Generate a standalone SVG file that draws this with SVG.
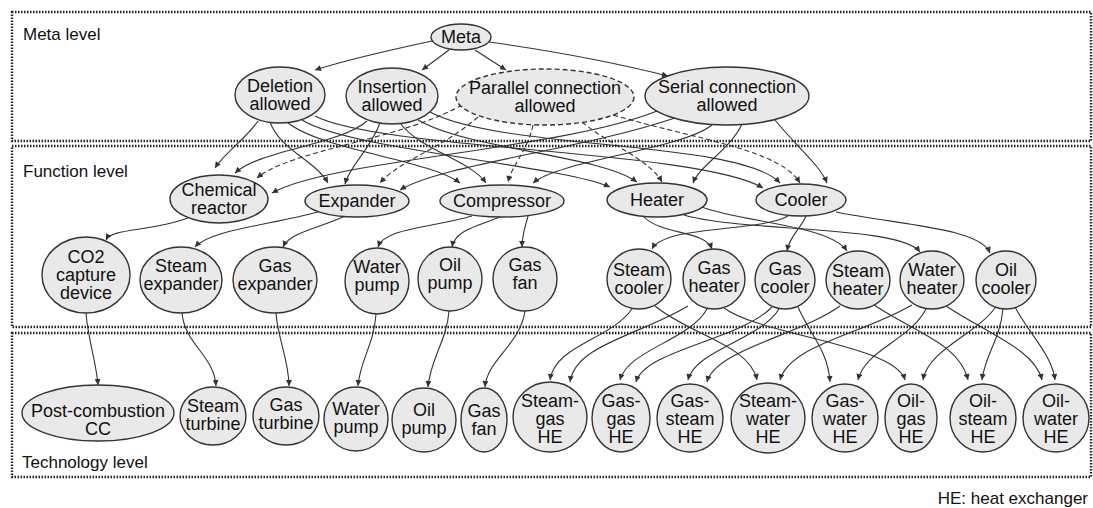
<svg xmlns="http://www.w3.org/2000/svg" width="1093" height="508" viewBox="0 0 1093 508">
<style>
.box{fill:none;stroke:#222;stroke-width:2.4;stroke-dasharray:1.5 1.5}
.lbl{font-family:"Liberation Sans",Arial,sans-serif;font-size:17px;fill:#111}
.n ellipse{fill:#e9e9e9;stroke:#333;stroke-width:1.4}
.n text{font-family:"Liberation Sans",Arial,sans-serif;font-size:18px;fill:#111;text-anchor:middle}
.dash ellipse{stroke-dasharray:5 3}
#edges path{fill:none;stroke:#333;stroke-width:1.1;marker-end:url(#ah)}
#edges path.d{stroke-dasharray:5 3}
</style>
<defs>
<marker id="ah" viewBox="0 0 10 10" refX="10" refY="5" markerWidth="8" markerHeight="6" orient="auto" markerUnits="userSpaceOnUse"><path d="M0,0 L10,5 L0,10 z" fill="#333"/></marker>
</defs>
<rect width="1093" height="508" fill="#fff"/>
<g id="levels">
<rect class="box" x="12" y="12" width="1079" height="129"/>
<rect class="box" x="12" y="146" width="1079" height="181"/>
<rect class="box" x="12" y="333" width="1079" height="144"/>
<text class="lbl" x="23" y="40">Meta level</text>
<text class="lbl" x="23" y="177">Function level</text>
<text class="lbl" x="22" y="468">Technology level</text>
<text class="lbl" x="1088" y="504" text-anchor="end">HE: heat exchanger</text>
</g>
<g id="edges">
<path d="M432,41 C390,50 340,62 315,70"/>
<path d="M449,50 L422,70"/>
<path d="M475,50 L506,70"/>
<path d="M489,42 C560,52 620,64 668,76"/>
<path d="M258,121 C245,140 225,152 215,168"/>
<path d="M270,122 C280,150 315,160 328,183"/>
<path d="M287,122 C320,150 430,160 460,183"/>
<path d="M302,120 C350,150 560,165 610,187"/>
<path d="M315,116 C380,150 700,150 763,188"/>
<path d="M367,121 C340,145 260,150 235,173"/>
<path d="M380,123 C370,150 350,165 345,184"/>
<path d="M400,123 C420,150 470,160 486,183"/>
<path d="M418,120 C470,150 600,155 637,182"/>
<path d="M430,112 C500,150 740,140 780,183"/>
<path class="d" d="M462,105 C400,140 290,150 257,178"/>
<path class="d" d="M478,117 C440,150 400,160 380,183"/>
<path class="d" d="M533,125 C528,150 512,165 508,182"/>
<path class="d" d="M582,122 C610,145 650,160 662,182"/>
<path class="d" d="M613,115 C700,140 780,150 800,183"/>
<path d="M657,111 C560,150 330,160 272,193"/>
<path d="M675,118 C580,150 440,165 400,190"/>
<path d="M712,125 C680,150 560,160 533,183"/>
<path d="M742,124 C730,150 700,165 693,183"/>
<path d="M775,120 C795,145 820,165 827,183"/>
<path d="M188,218 C150,232 112,228 106,240"/>
<path d="M318,212 C270,225 210,230 195,247"/>
<path d="M345,216 C320,228 290,232 283,247"/>
<path d="M472,216 C430,228 385,228 378,247"/>
<path d="M500,217 C470,228 455,232 452,247"/>
<path d="M528,216 C525,228 522,235 522,247"/>
<path d="M643,216 C660,235 705,230 712,249"/>
<path d="M702,207 C740,222 830,225 847,251"/>
<path d="M684,215 C740,232 900,225 920,252"/>
<path d="M788,216 C760,232 665,225 652,249"/>
<path d="M806,216 C800,230 790,235 787,251"/>
<path d="M836,212 C900,225 980,228 990,253"/>
<path d="M86,313 C88,340 96,360 98,385"/>
<path d="M182,313 C185,345 214,355 216,386"/>
<path d="M276,313 C278,340 289,360 289,386"/>
<path d="M376,314 C374,345 360,360 358,386"/>
<path d="M449,311 C447,340 430,360 428,387"/>
<path d="M525,311 C520,345 487,360 485,387"/>
<path d="M632,309 C610,340 555,345 550,380"/>
<path d="M688,306 C640,335 575,345 570,382"/>
<path d="M707,309 C690,340 628,350 620,380"/>
<path d="M772,307 C740,340 645,350 636,382"/>
<path d="M779,309 C760,340 695,350 688,380"/>
<path d="M840,306 C800,335 715,350 707,382"/>
<path d="M655,306 C690,335 750,345 757,380"/>
<path d="M912,305 C860,335 790,345 780,380"/>
<path d="M798,307 C810,335 828,350 830,382"/>
<path d="M926,309 C910,340 865,350 858,380"/>
<path d="M724,308 C760,335 895,345 905,380"/>
<path d="M995,308 C975,335 928,350 923,380"/>
<path d="M874,305 C920,335 960,345 968,380"/>
<path d="M1003,309 C1000,340 985,355 982,380"/>
<path d="M946,306 C990,335 1035,350 1042,380"/>
<path d="M1015,307 C1030,335 1052,355 1055,380"/>
</g>
<g id="meta" class="n"><ellipse cx="461" cy="37" rx="30" ry="13"/><text x="461" y="43">Meta</text></g>
<g id="deletion" class="n"><ellipse cx="280" cy="95" rx="45" ry="28"/><text x="280" y="92">Deletion<tspan x="280" dy="18">allowed</tspan></text></g>
<g id="insertion" class="n"><ellipse cx="392" cy="96" rx="46" ry="28"/><text x="392" y="93">Insertion<tspan x="392" dy="18">allowed</tspan></text></g>
<g id="parallel" class="n dash"><ellipse cx="545" cy="97" rx="89" ry="28"/><text x="545" y="94">Parallel connection<tspan x="545" dy="18">allowed</tspan></text></g>
<g id="serial" class="n"><ellipse cx="727" cy="96" rx="82" ry="29"/><text x="727" y="93">Serial connection<tspan x="727" dy="18">allowed</tspan></text></g>
<g id="chemical-reactor" class="n"><ellipse cx="219" cy="199" rx="49" ry="24"/><text x="219" y="196">Chemical<tspan x="219" dy="18">reactor</tspan></text></g>
<g id="expander" class="n"><ellipse cx="357" cy="201" rx="52" ry="16"/><text x="357" y="207">Expander</text></g>
<g id="compressor" class="n"><ellipse cx="502" cy="201" rx="62" ry="16"/><text x="502" y="207">Compressor</text></g>
<g id="heater" class="n"><ellipse cx="657" cy="200" rx="50" ry="17"/><text x="657" y="206">Heater</text></g>
<g id="cooler" class="n"><ellipse cx="801" cy="200" rx="45" ry="16"/><text x="801" y="206">Cooler</text></g>
<g id="co2-capture" class="n"><ellipse cx="86" cy="275" rx="44" ry="38"/><text x="86" y="263">CO2<tspan x="86" dy="18">capture</tspan><tspan x="86" dy="18">device</tspan></text></g>
<g id="steam-expander" class="n"><ellipse cx="181" cy="280" rx="41" ry="33"/><text x="181" y="272">Steam<tspan x="181" dy="18">expander</tspan></text></g>
<g id="gas-expander" class="n"><ellipse cx="275" cy="280" rx="42" ry="33"/><text x="275" y="272">Gas<tspan x="275" dy="18">expander</tspan></text></g>
<g id="water-pump-f" class="n"><ellipse cx="377" cy="281" rx="32" ry="33"/><text x="377" y="273">Water<tspan x="377" dy="18">pump</tspan></text></g>
<g id="oil-pump-f" class="n"><ellipse cx="450" cy="279" rx="32" ry="32"/><text x="450" y="271">Oil<tspan x="450" dy="18">pump</tspan></text></g>
<g id="gas-fan-f" class="n"><ellipse cx="525" cy="279" rx="32" ry="32"/><text x="525" y="271">Gas<tspan x="525" dy="18">fan</tspan></text></g>
<g id="steam-cooler" class="n"><ellipse cx="639" cy="279" rx="32" ry="30"/><text x="639" y="276">Steam<tspan x="639" dy="18">cooler</tspan></text></g>
<g id="gas-heater" class="n"><ellipse cx="714" cy="279" rx="31" ry="30"/><text x="714" y="274">Gas<tspan x="714" dy="18">heater</tspan></text></g>
<g id="gas-cooler" class="n"><ellipse cx="785" cy="280" rx="30" ry="29"/><text x="785" y="275">Gas<tspan x="785" dy="18">cooler</tspan></text></g>
<g id="steam-heater" class="n"><ellipse cx="858" cy="280" rx="32" ry="29"/><text x="858" y="277">Steam<tspan x="858" dy="18">heater</tspan></text></g>
<g id="water-heater" class="n"><ellipse cx="932" cy="280" rx="32" ry="29"/><text x="932" y="276">Water<tspan x="932" dy="18">heater</tspan></text></g>
<g id="oil-cooler" class="n"><ellipse cx="1006" cy="280" rx="30" ry="29"/><text x="1006" y="276">Oil<tspan x="1006" dy="18">cooler</tspan></text></g>
<g id="post-combustion" class="n"><ellipse cx="98" cy="413" rx="76" ry="28"/><text x="98" y="417">Post-combustion<tspan x="98" dy="18">CC</tspan></text></g>
<g id="steam-turbine" class="n"><ellipse cx="213" cy="416" rx="33" ry="29"/><text x="213" y="412">Steam<tspan x="213" dy="18">turbine</tspan></text></g>
<g id="gas-turbine" class="n"><ellipse cx="286" cy="416" rx="33" ry="29"/><text x="286" y="411">Gas<tspan x="286" dy="18">turbine</tspan></text></g>
<g id="water-pump-t" class="n"><ellipse cx="356" cy="419" rx="32" ry="32"/><text x="356" y="415">Water<tspan x="356" dy="18">pump</tspan></text></g>
<g id="oil-pump-t" class="n"><ellipse cx="424" cy="420" rx="32" ry="32"/><text x="424" y="416">Oil<tspan x="424" dy="18">pump</tspan></text></g>
<g id="gas-fan-t" class="n"><ellipse cx="484" cy="420" rx="23" ry="32"/><text x="484" y="417">Gas<tspan x="484" dy="18">fan</tspan></text></g>
<g id="steam-gas-he" class="n"><ellipse cx="550" cy="417" rx="37" ry="35"/><text x="550" y="407">Steam-<tspan x="550" dy="18">gas</tspan><tspan x="550" dy="18">HE</tspan></text></g>
<g id="gas-gas-he" class="n"><ellipse cx="621" cy="418" rx="29" ry="34"/><text x="621" y="407">Gas-<tspan x="621" dy="18">gas</tspan><tspan x="621" dy="18">HE</tspan></text></g>
<g id="gas-steam-he" class="n"><ellipse cx="690" cy="418" rx="33" ry="34"/><text x="690" y="407">Gas-<tspan x="690" dy="18">steam</tspan><tspan x="690" dy="18">HE</tspan></text></g>
<g id="steam-water-he" class="n"><ellipse cx="768" cy="418" rx="37" ry="35"/><text x="768" y="407">Steam-<tspan x="768" dy="18">water</tspan><tspan x="768" dy="18">HE</tspan></text></g>
<g id="gas-water-he" class="n"><ellipse cx="845" cy="418" rx="33" ry="34"/><text x="845" y="407">Gas-<tspan x="845" dy="18">water</tspan><tspan x="845" dy="18">HE</tspan></text></g>
<g id="oil-gas-he" class="n"><ellipse cx="911" cy="418" rx="26" ry="34"/><text x="911" y="407">Oil-<tspan x="911" dy="18">gas</tspan><tspan x="911" dy="18">HE</tspan></text></g>
<g id="oil-steam-he" class="n"><ellipse cx="983" cy="418" rx="33" ry="34"/><text x="983" y="407">Oil-<tspan x="983" dy="18">steam</tspan><tspan x="983" dy="18">HE</tspan></text></g>
<g id="oil-water-he" class="n"><ellipse cx="1056" cy="418" rx="33" ry="34"/><text x="1056" y="407">Oil-<tspan x="1056" dy="18">water</tspan><tspan x="1056" dy="18">HE</tspan></text></g>
</svg>
